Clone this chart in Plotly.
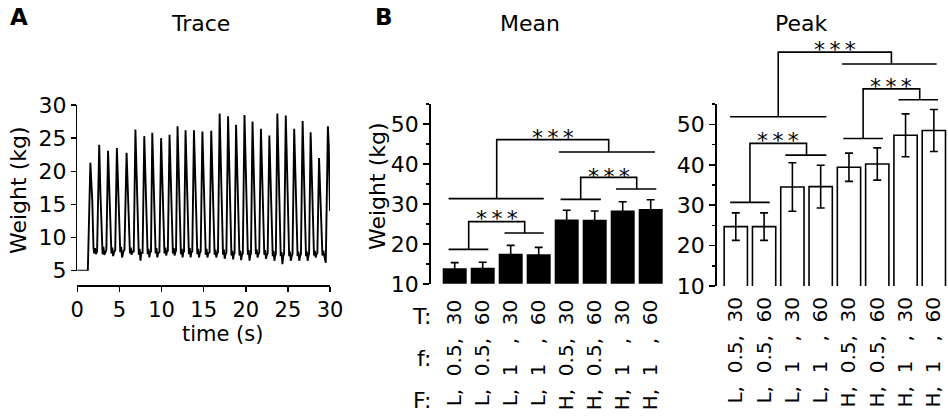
import plotly.graph_objects as go

# ---------------- data ----------------
# Panel A: force trace (time in s, weight in kg), vertices
trace_t = [0, 1.25,
    1.55, 1.68, 1.78, 1.92, 2.0, 2.1, 2.2, 2.35,
    2.6, 2.75, 2.92, 3.0, 3.1, 3.2, 3.35, 3.45,
    3.65, 3.8, 3.97, 4.05, 4.15, 4.25, 4.4, 4.5,
    4.7, 4.85, 5.02, 5.1, 5.2, 5.32, 5.45, 5.6,
    5.85, 6.0, 6.17, 6.25, 6.35, 6.45, 6.55, 6.7,
    6.9, 7.05, 7.22, 7.3, 7.4, 7.5, 7.6, 7.75,
    7.95, 8.1, 8.27, 8.35, 8.45, 8.55, 8.65, 8.75,
    8.9, 9.05, 9.22, 9.3, 9.4, 9.5, 9.6, 9.75,
    9.95, 10.1, 10.27, 10.35, 10.45, 10.55, 10.65, 10.75,
    10.95, 11.1, 11.27, 11.35, 11.45, 11.55, 11.65, 11.72,
    11.9, 12.05, 12.22, 12.3, 12.4, 12.5, 12.58, 12.67,
    12.85, 13.0, 13.17, 13.25, 13.35, 13.45, 13.55, 13.65,
    13.85, 14.0, 14.17, 14.25, 14.35, 14.45, 14.55, 14.65,
    14.85, 15.0, 15.17, 15.25, 15.35, 15.45, 15.55, 15.7,
    15.9, 16.05, 16.22, 16.3, 16.4, 16.5, 16.6, 16.7,
    16.9, 17.05, 17.22, 17.3, 17.4, 17.5, 17.6, 17.7,
    17.9, 18.05, 18.22, 18.3, 18.4, 18.5, 18.58, 18.67,
    18.85, 19.0, 19.17, 19.25, 19.35, 19.45, 19.55, 19.65,
    19.85, 20.0, 20.17, 20.25, 20.35, 20.45, 20.52, 20.62,
    20.8, 20.95, 21.12, 21.2, 21.3, 21.4, 21.5, 21.6,
    21.8, 21.95, 22.12, 22.2, 22.3, 22.4, 22.5, 22.6,
    22.8, 22.95, 23.12, 23.2, 23.3, 23.4, 23.48, 23.57,
    23.75, 23.9, 24.07, 24.15, 24.25, 24.35, 24.45, 24.55,
    24.75, 24.9, 25.07, 25.15, 25.25, 25.35, 25.45, 25.55,
    25.75, 25.9, 26.07, 26.15, 26.25, 26.35, 26.45, 26.55,
    26.75, 26.9, 27.07, 27.15, 27.25, 27.35, 27.45, 27.52,
    27.7, 27.85, 28.02, 28.1, 28.2, 28.3, 28.4, 28.5,
    28.7, 28.85, 29.02, 29.1, 29.2, 29.3, 29.4, 29.5,
    29.75, 29.85, 30.0]
trace_w = [5, 5,
    21.3, 18.5, 15.5, 8.5, 7.6, 8.4, 7.5, 7.9,
    24.0, 16.5, 9.0, 7.5, 8.6, 7.4, 7.8, 8.2,
    23.1, 16.0, 9.0, 7.6, 8.5, 7.2, 7.9, 8.1,
    23.5, 18.0, 9.5, 7.8, 8.6, 7.0, 7.8, 8.2,
    22.8, 17.5, 9.0, 7.6, 8.5, 7.4, 8.0, 7.8,
    26.3, 18.0, 9.0, 7.4, 8.3, 6.5, 7.8, 7.6,
    25.3, 17.5, 9.0, 7.5, 8.3, 7.0, 7.8, 7.9,
    25.8, 17.5, 9.0, 7.6, 8.4, 7.0, 7.7, 7.8,
    25.0, 17.0, 9.0, 7.6, 8.5, 7.3, 7.9, 8.0,
    25.5, 17.5, 9.0, 7.6, 8.4, 7.3, 7.8, 8.0,
    26.8, 18.0, 9.0, 7.5, 8.3, 7.0, 7.8, 7.9,
    26.2, 17.5, 9.0, 7.5, 8.4, 7.0, 7.8, 7.9,
    26.2, 17.5, 9.0, 7.5, 8.3, 7.0, 7.7, 7.9,
    26.0, 17.5, 9.0, 7.4, 8.3, 7.0, 7.6, 7.8,
    26.1, 17.5, 9.0, 7.4, 8.2, 7.0, 7.6, 7.8,
    28.7, 19.0, 9.5, 7.4, 8.2, 6.8, 7.5, 7.7,
    28.3, 19.0, 9.5, 7.3, 8.0, 6.7, 7.5, 7.6,
    27.0, 18.5, 9.0, 7.3, 8.0, 6.6, 7.4, 7.6,
    28.5, 19.0, 9.5, 7.4, 8.1, 6.5, 7.3, 7.6,
    27.5, 18.5, 9.0, 7.5, 8.2, 7.0, 7.5, 7.7,
    26.4, 18.0, 9.0, 7.4, 8.1, 6.8, 7.4, 7.6,
    25.4, 17.5, 9.0, 7.2, 8.0, 6.5, 7.2, 7.5,
    28.7, 19.0, 9.5, 7.2, 7.8, 6.0, 7.2, 7.5,
    28.4, 19.0, 9.5, 7.2, 7.9, 6.5, 7.2, 7.5,
    26.4, 18.0, 9.0, 7.2, 7.9, 6.5, 7.2, 7.5,
    27.6, 18.5, 9.0, 7.2, 7.9, 6.5, 7.3, 7.6,
    25.9, 17.5, 9.0, 7.3, 8.0, 7.0, 7.5, 7.7,
    22.0, 16.0, 8.8, 7.3, 8.0, 7.0, 6.8, 6.2,
    26.8, 24.0, 14.0]

# Panel B: conditions (F, f, T) and bar values (kg)
cond_labels = ["L,\u00a0\u00a00.5,\u00a0\u00a030", "L,\u00a0\u00a00.5,\u00a0\u00a060",
               "L,\u00a0\u00a01\u00a0\u00a0\u00a0,\u00a0\u00a030", "L,\u00a0\u00a01\u00a0\u00a0\u00a0,\u00a0\u00a060",
               "H,\u00a0\u00a00.5,\u00a0\u00a030", "H,\u00a0\u00a00.5,\u00a0\u00a060",
               "H,\u00a0\u00a01\u00a0\u00a0\u00a0,\u00a0\u00a030", "H,\u00a0\u00a01\u00a0\u00a0\u00a0,\u00a0\u00a060"]
cond_idx = [0, 1, 2, 3, 4, 5, 6, 7]
mean_vals = [13.9, 14.0, 17.5, 17.4, 26.1, 26.0, 28.3, 28.7]
mean_err = [1.4, 1.4, 2.1, 1.7, 2.3, 2.2, 2.2, 2.3]
peak_vals = [24.7, 24.7, 34.5, 34.6, 39.4, 40.2, 47.3, 48.5]
peak_err = [3.4, 3.4, 6.0, 5.3, 3.5, 4.0, 5.3, 5.2]

# significance brackets: group lines (x0, x1, y) and links (xa, ya, xb, yb, ytop), stars (x, y)
mean_lines = [(-0.22, 1.2, 18.6), (1.78, 3.18, 22.7), (-0.22, 3.18, 31.3),
              (3.78, 5.22, 31.1), (5.76, 7.2, 33.7), (3.72, 7.15, 42.95)]
mean_links = [(0.5, 18.6, 2.5, 22.7, 25.55), (1.5, 31.3, 5.5, 42.95, 46.05),
              (4.5, 31.1, 6.5, 33.7, 36.6)]
mean_stars = [(1.5, 27.55), (3.5, 47.95), (5.5, 38.1)]
peak_lines = [(-0.2, 1.2, 30.7), (1.75, 3.2, 42.4), (-0.2, 3.2, 51.9),
              (3.8, 5.2, 46.5), (5.75, 7.15, 56.1), (3.75, 7.1, 64.95)]
peak_links = [(0.5, 30.7, 2.5, 42.4, 45.3), (1.5, 51.9, 5.5, 64.95, 67.9),
              (4.5, 46.5, 6.5, 56.1, 58.8)]
peak_stars = [(1.5, 47.2), (3.5, 69.9), (5.5, 60.6)]

# ---------------- figure ----------------
FONT = "DejaVu Sans"
BLACK = "#000000"
fig = go.Figure()

fig.add_trace(go.Scatter(x=trace_t, y=trace_w, mode="lines",
                         line=dict(color=BLACK, width=1.9), xaxis="x", yaxis="y",
                         cliponaxis=False, showlegend=False, hoverinfo="skip"))

fig.add_trace(go.Bar(x=cond_idx, y=mean_vals, width=0.857, marker=dict(color=BLACK, line=dict(width=0)),
                     error_y=dict(type="data", array=mean_err, color=BLACK, thickness=1.6, width=4),
                     xaxis="x2", yaxis="y2", showlegend=False, hoverinfo="skip"))

fig.add_trace(go.Bar(x=cond_idx, y=peak_vals, width=0.823,
                     marker=dict(color="white", line=dict(color=BLACK, width=1.6)),
                     error_y=dict(type="data", array=peak_err, color=BLACK, thickness=1.6, width=4),
                     xaxis="x3", yaxis="y3", showlegend=False, hoverinfo="skip"))


def bracket_xy(lines, links):
    xs, ys = [], []
    for x0, x1, y in lines:
        xs += [x0, x1, None]
        ys += [y, y, None]
    for xa, ya, xb, yb, yt in links:
        xs += [xa, xa, xb, xb, None]
        ys += [ya, yt, yt, yb, None]
    return xs, ys


mx, my = bracket_xy(mean_lines, mean_links)
fig.add_trace(go.Scatter(x=mx, y=my, mode="lines", line=dict(color=BLACK, width=1.6),
                         xaxis="x2", yaxis="y2", showlegend=False, hoverinfo="skip", cliponaxis=False))
px_, py_ = bracket_xy(peak_lines, peak_links)
fig.add_trace(go.Scatter(x=px_, y=py_, mode="lines", line=dict(color=BLACK, width=1.6),
                         xaxis="x3", yaxis="y5", showlegend=False, hoverinfo="skip", cliponaxis=False))

annotations = []
STAR = "*\u2009*\u2009*"
for x, y in mean_stars:
    annotations.append(dict(x=x, y=y, xref="x2", yref="y2", text=STAR, showarrow=False,
                            yshift=-5, font=dict(family=FONT, size=22, color=BLACK)))
for x, y in peak_stars:
    annotations.append(dict(x=x, y=y, xref="x3", yref="y5", text=STAR, showarrow=False,
                            yshift=-5, font=dict(family=FONT, size=22, color=BLACK)))

def paper_text(text, x, y, size=22, bold=False, angle=0, xanchor="center"):
    annotations.append(dict(x=x / 948, y=1 - y / 419, xref="paper", yref="paper",
                            text=("<b>%s</b>" % text) if bold else text, showarrow=False,
                            textangle=angle, xanchor=xanchor, yanchor="middle",
                            font=dict(family=FONT, size=size, color=BLACK)))

paper_text("A", 19, 17, size=23, bold=True)
paper_text("B", 384, 17, size=23, bold=True)
paper_text("Trace", 200, 23)
paper_text("Mean", 530, 23)
paper_text("Peak", 801, 23)
paper_text("Weight (kg)", 18, 190, angle=-90)
paper_text("Weight (kg)", 377, 186, angle=-90)
paper_text("time (s)", 222, 334, size=21)
paper_text("T:", 433, 316, xanchor="right")
paper_text("f:", 433, 358, xanchor="right")
paper_text("F:", 433, 400, xanchor="right")

tickfont = dict(family=FONT, size=22, color=BLACK)
xtickfont = dict(family=FONT, size=21, color=BLACK)
bartickfont = dict(family=FONT, size=20, color=BLACK)

fig.update_layout(
    template="none",
    width=948, height=419, margin=dict(l=0, r=0, t=0, b=0, autoexpand=False),
    paper_bgcolor="white", plot_bgcolor="rgba(0,0,0,0)",
    font=dict(family=FONT, size=20, color=BLACK),
    showlegend=False, annotations=annotations,
    xaxis=dict(domain=[77.3 / 948, 330 / 948], range=[0, 30], anchor="free", position=1 - 285 / 419,
               showline=True, linecolor=BLACK, linewidth=1.5, ticks="outside", ticklen=5, tickwidth=1.5,
               tickcolor=BLACK, tickvals=[0, 5, 10, 15, 20, 25, 30], showgrid=False, zeroline=False,
               tickfont=xtickfont, ticklabelstandoff=0, automargin=False),
    yaxis=dict(domain=[1 - 270.7 / 419, 1 - 105 / 419], range=[5, 30], anchor="x",
               showline=True, linecolor=BLACK, linewidth=1.5, ticks="outside", ticklen=5, tickwidth=1.5,
               tickcolor=BLACK, tickvals=[5, 10, 15, 20, 25, 30], showgrid=False, zeroline=False,
               tickfont=tickfont, automargin=False),
    xaxis2=dict(domain=[430.7 / 948, 664.7 / 948], range=[-0.857, 7.5], anchor="y2",
                showline=False, ticks="", tickvals=cond_idx, ticktext=cond_labels, tickangle=-90,
                showgrid=False, zeroline=False, tickfont=bartickfont, ticklabelstandoff=11,
                automargin=False),
    yaxis2=dict(domain=[1 - 283.8 / 419, 1 - 103.8 / 419], range=[10, 55], anchor="x2",
                showline=True, linecolor=BLACK, linewidth=1.5, ticks="outside", ticklen=6, tickwidth=1.5,
                tickcolor=BLACK, tickvals=[10, 20, 30, 40, 50], showgrid=False, zeroline=False,
                minor=dict(tickvals=[15, 25, 35, 45, 55], ticks="outside", ticklen=3.5, tickwidth=1.5,
                           tickcolor=BLACK, showgrid=False),
                tickfont=tickfont, automargin=False),
    xaxis3=dict(domain=[716.7 / 948, 1.0], range=[-0.675, 7.5], anchor="y3",
                showline=False, ticks="", tickvals=cond_idx, ticktext=cond_labels, tickangle=-90,
                showgrid=False, zeroline=False, tickfont=bartickfont, ticklabelstandoff=6,
                automargin=False),
    yaxis3=dict(domain=[1 - 286 / 419, 1 - 104.2 / 419], range=[10, 55], anchor="x3",
                showline=True, linecolor=BLACK, linewidth=1.5, ticks="outside", ticklen=6, tickwidth=1.5,
                tickcolor=BLACK, tickvals=[10, 20, 30, 40, 50], showgrid=False, zeroline=False,
                minor=dict(tickvals=[15, 25, 35, 45, 55], ticks="outside", ticklen=3.5, tickwidth=1.5,
                           tickcolor=BLACK, showgrid=False),
                tickfont=tickfont, automargin=False),
    yaxis5=dict(domain=[1 - 286 / 419, 1.0], range=[10, 10 + 45 * (286 / (286 - 104.2))], anchor="x3",
                visible=False, showgrid=False, zeroline=False),
)

fig.write_html("out.html", config={"displayModeBar": False, "staticPlot": True},
               post_script="document.body.style.margin='0';document.body.style.overflow='hidden';")
